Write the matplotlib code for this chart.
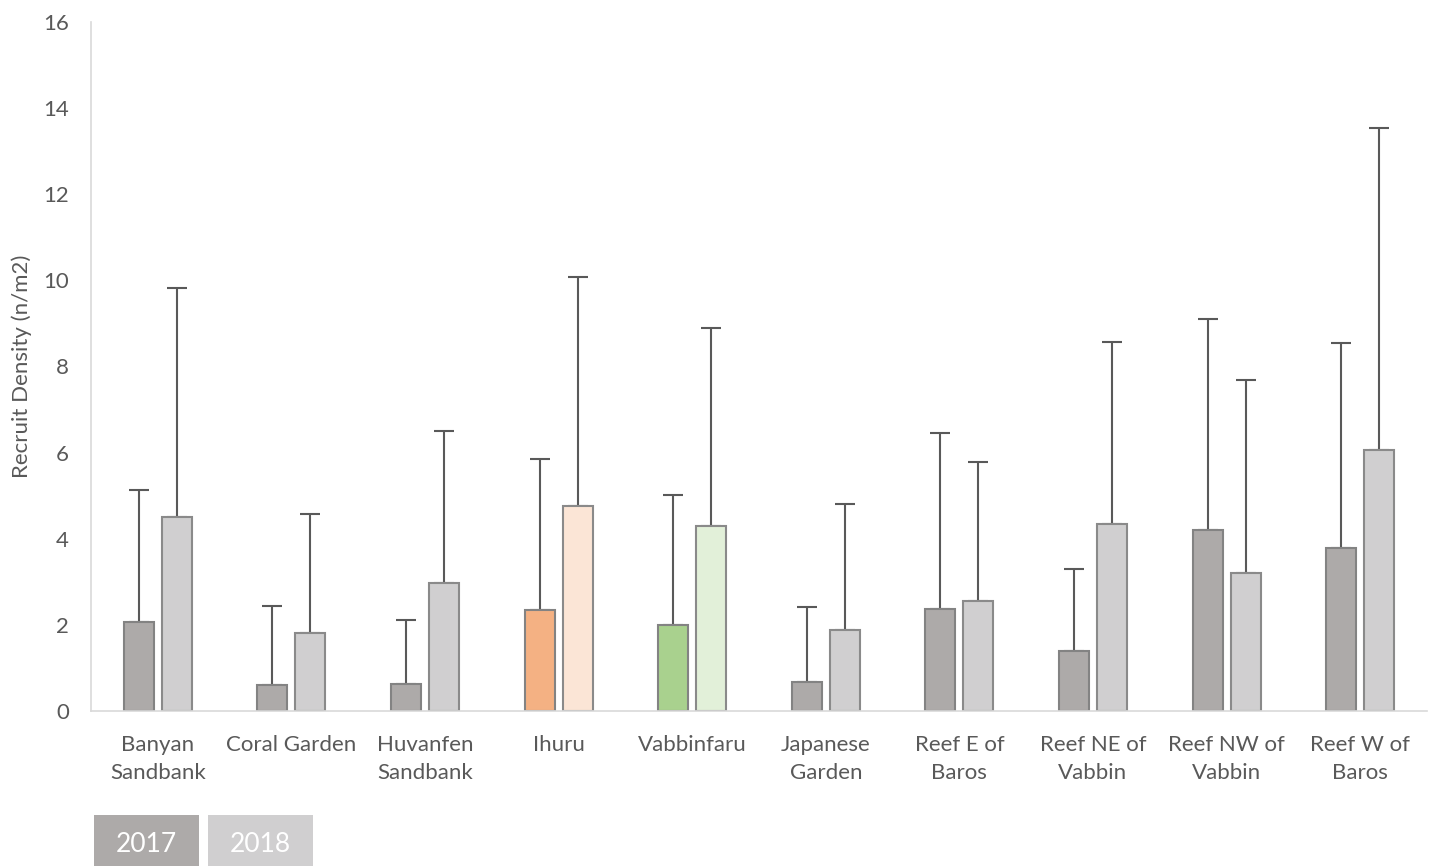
import numpy as np
import matplotlib.pyplot as plt
from matplotlib.patches import Rectangle

plt.rcParams['font.family'] = ['Lato', 'DejaVu Sans']

sites = ['Banyan\nSandbank', 'Coral Garden', 'Huvanfen\nSandbank', 'Ihuru', 'Vabbinfaru',
         'Japanese\nGarden', 'Reef E of\nBaros', 'Reef NE of\nVabbin', 'Reef NW of\nVabbin',
         'Reef W of\nBaros']

# mean recruit density and upper error (SD) per site
mean_2017 = [2.07, 0.60, 0.63, 2.35, 2.00, 0.67, 2.37, 1.39, 4.20, 3.79]
err_2017 = [3.06, 1.84, 1.48, 3.50, 3.02, 1.75, 4.09, 1.91, 4.90, 4.76]
mean_2018 = [4.51, 1.81, 2.97, 4.76, 4.30, 1.88, 2.55, 4.34, 3.20, 6.06]
err_2018 = [5.31, 2.77, 3.53, 5.32, 4.59, 2.93, 3.23, 4.23, 4.49, 7.48]

col_2017 = ['#ADAAA9'] * 10
col_2018 = ['#D0CFD0'] * 10
col_2017[3], col_2018[3] = '#F4B183', '#FBE5D6'   # Ihuru
col_2017[4], col_2018[4] = '#A9D18E', '#E2F0D9'   # Vabbinfaru

fig = plt.figure(figsize=(14.34, 8.66), dpi=100)
ax = fig.add_axes([91 / 1434, 1 - 711 / 866, 1336 / 1434, 689 / 866])

x = np.arange(len(sites))
w = 0.225
off = 0.142
ax.bar(x - off, mean_2017, w, color=col_2017, edgecolor='#838383', linewidth=1.5, zorder=2)
ax.bar(x + off, mean_2018, w, color=col_2018, edgecolor='#8a8a8a', linewidth=1.5, zorder=2)
ax.errorbar(x - off, mean_2017, yerr=[np.zeros(10), err_2017], fmt='none',
            ecolor='#595959', elinewidth=1.5, capsize=7, capthick=1.5, zorder=1)
ax.errorbar(x + off, mean_2018, yerr=[np.zeros(10), err_2018], fmt='none',
            ecolor='#595959', elinewidth=1.5, capsize=7, capthick=1.5, zorder=1)

ax.set_xlim(-0.5, len(sites) - 0.5)
ax.set_ylim(0, 16)
ax.set_yticks(range(0, 17, 2))
ax.set_xticks(x)
ax.set_xticklabels(sites, linespacing=1.55)
ax.tick_params(axis='both', length=0, labelsize=16, colors='#595959')
ax.tick_params(axis='x', pad=17)
ax.tick_params(axis='y', pad=16)
for s in ['top', 'right']:
    ax.spines[s].set_visible(False)
for s in ['left', 'bottom']:
    ax.spines[s].set_color('#D9D9D9')
    ax.spines[s].set_linewidth(1.2)

ax.set_ylabel('Recruit Density (n/m2)', fontsize=16, color='#595959')
ax.yaxis.set_label_coords(-0.044, 0.5)

# year buttons along the bottom edge
for i, (yr, fc) in enumerate([('2017', '#ADAAA9'), ('2018', '#D0CFD0')]):
    x0 = (94 + i * 114) / 1434
    fig.patches.append(Rectangle((x0, 0), 105 / 1434, 51 / 866, transform=fig.transFigure,
                                 facecolor=fc, edgecolor='none'))
    fig.text(x0 + 52.5 / 1434, 22 / 866, yr, color='white', fontsize=19,
             ha='center', va='center')

fig.savefig('out.png', dpi=100)
